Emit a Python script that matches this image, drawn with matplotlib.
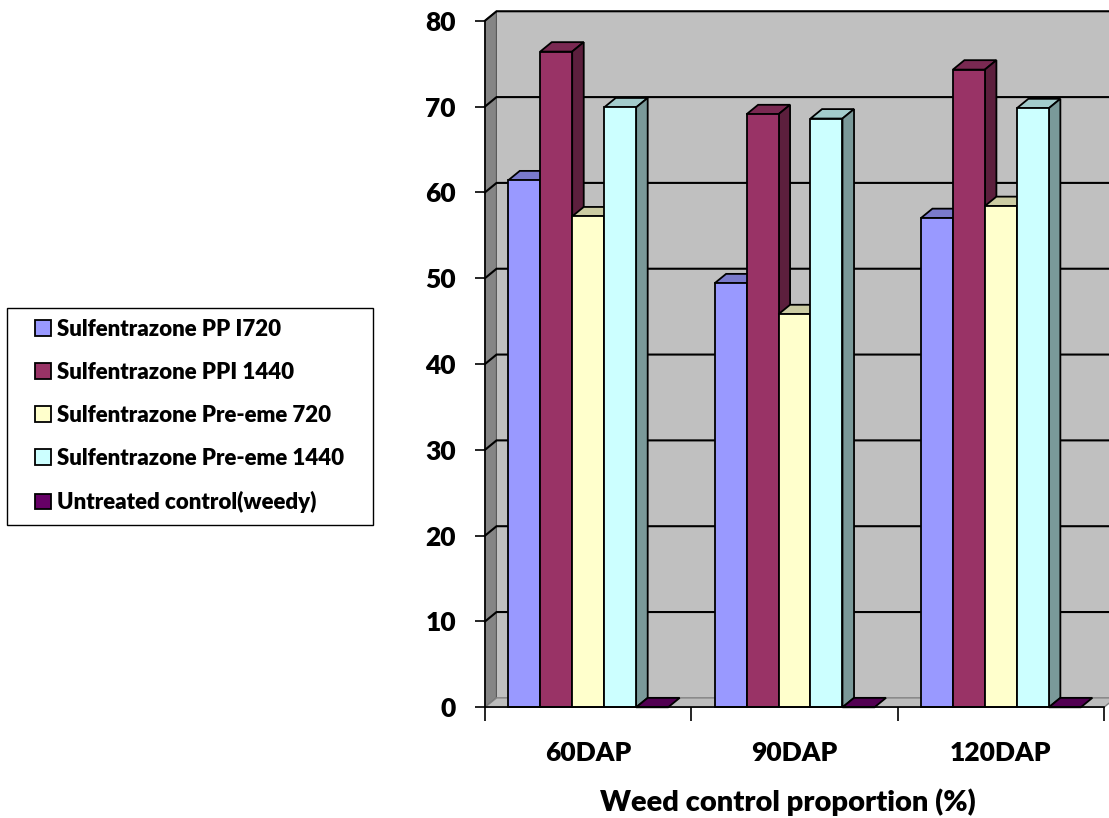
# -*- coding: utf-8 -*-
# Weed control proportion - pseudo 3D column chart
import numpy as np
import matplotlib.pyplot as plt
from matplotlib.patches import Polygon, Rectangle
from matplotlib.colors import to_rgb

plt.rcParams['font.family'] = ['Lato', 'DejaVu Sans']
plt.rcParams['font.weight'] = 'heavy'

categories = ["60DAP", "90DAP", "120DAP"]
series = ["Sulfentrazone PP I720", "Sulfentrazone PPI 1440",
          "Sulfentrazone Pre-eme 720", "Sulfentrazone Pre-eme 1440",
          "Untreated control(weedy)"]
pp_i720 = [61.4, 49.4, 57.0]
ppi_1440 = [76.4, 69.1, 74.3]
pre_720 = [57.2, 45.8, 58.4]
pre_1440 = [69.9, 68.6, 69.8]
untreated = [0, 0, 0]
colors = ["#9999FF", "#993366", "#FFFFCC", "#CCFFFF", "#660066"]
yticks = [0, 10, 20, 30, 40, 50, 60, 70, 80]


def shade(c, f):
    r, g, b = to_rgb(c)
    return (r * f, g * f, b * f)


fig = plt.figure(figsize=(11.09, 8.18), dpi=100)
ax = fig.add_axes([485 / 1109, 1 - 707.3 / 818, 619 / 1109, 686.6 / 818])
ax.set_xlim(0, 3)
ax.set_ylim(0, 80)
ax.set_facecolor("none")

# depth offset (x in category units, y in value units)
dx, dy = 0.056, 1.1
ymax = yticks[-1]

# walls and floor
ax.add_patch(Polygon([(0, 0), (dx, dy), (dx, ymax + dy), (0, ymax)],
                     fc="#858585", ec="#5a5a5a", lw=1, clip_on=False, zorder=0))
ax.add_patch(Polygon([(dx, dy), (3 + dx, dy), (3 + dx, ymax + dy), (dx, ymax + dy)],
                     fc="#C0C0C0", ec="none", clip_on=False, zorder=0))
ax.add_patch(Polygon([(0, 0), (3, 0), (3 + dx, dy), (dx, dy)],
                     fc="#bdbdbd", ec="#808080", lw=1, clip_on=False, zorder=0.5))
for v in yticks[1:]:
    ax.plot([0, dx, 3 + dx], [v, v + dy, v + dy], color="black", lw=1.5,
            clip_on=False, zorder=1, solid_joinstyle="miter")

# bars
values = [pp_i720, ppi_1440, pre_720, pre_1440, untreated]
x = np.arange(len(categories))
width = 0.155
handles = []
for i, (vals, c, lab) in enumerate(zip(values, colors, series)):
    pos = x + 0.5 + (i - 2) * width
    z = 2 + i
    bars = ax.bar(pos, vals, width, color=c, edgecolor="black", linewidth=1.3,
                  label=lab, zorder=z + 0.2, clip_on=False)
    handles.append(bars)
    for b in bars:
        x0 = b.get_x()
        x1 = x0 + b.get_width()
        h = b.get_height()
        ax.add_patch(Polygon([(x0, h), (x0 + dx, h + dy), (x1 + dx, h + dy), (x1, h)],
                             fc=shade(c, 0.8), ec="black", lw=1.3, zorder=z, clip_on=False))
        if h > 0:
            ax.add_patch(Polygon([(x1, 0), (x1, h), (x1 + dx, h + dy), (x1 + dx, dy)],
                                 fc=shade(c, 0.6), ec="black", lw=1.3, zorder=z, clip_on=False))

# axes
for s in ["top", "right"]:
    ax.spines[s].set_visible(False)
ax.spines["left"].set_linewidth(1.2)
ax.spines["bottom"].set_linewidth(1.2)
ax.spines["left"].set_zorder(10)
ax.spines["bottom"].set_zorder(10)
ax.set_yticks(yticks)
ax.tick_params(axis="y", direction="out", length=7, width=1.2, pad=14, labelsize=19)
ax.set_xticks([0, 1, 2, 3])
ax.set_xticklabels([])
ax.set_xticks(x + 0.5, minor=True)
ax.set_xticklabels(categories, minor=True)
ax.tick_params(axis="x", which="major", direction="out", length=10, width=1.2)
ax.tick_params(axis="x", which="minor", length=0, pad=24, labelsize=19)

fig.text(788 / 1109, 1 - 802 / 818, "Weed control proportion (%)", ha="center",
         va="center", fontsize=21, fontweight="heavy")

# legend box
fig.patches.append(Rectangle((7 / 1109, 1 - 525 / 818), 366 / 1109, 217 / 818,
                             transform=fig.transFigure, fc="white", ec="black", lw=1,
                             zorder=0))
leg = fig.legend(handles, series, loc="upper left", bbox_to_anchor=(35 / 1109, 1 - 319 / 818),
                 frameon=False, prop={"weight": "heavy", "size": 16}, handlelength=0.7,
                 handleheight=0.7, handletextpad=0.3, labelspacing=0.99, borderpad=0,
                 borderaxespad=0)

fig.savefig("out.png", dpi=100)
